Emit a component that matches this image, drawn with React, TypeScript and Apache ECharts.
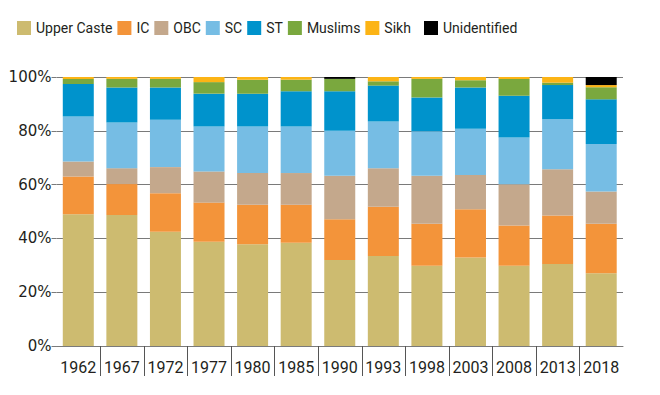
import React, { useEffect, useRef } from "react";
import * as echarts from "echarts";

const years = ["1962", "1967", "1972", "1977", "1980", "1985", "1990", "1993", "1998", "2003", "2008", "2013", "2018"];
const upperCaste = [49.0, 48.7, 42.5, 38.8, 37.8, 38.4, 32.0, 33.5, 29.8, 32.9, 29.8, 30.5, 27.0];
const ic = [14.0, 11.5, 14.3, 14.5, 14.7, 14.1, 15.1, 18.3, 15.6, 17.9, 15.0, 18.0, 18.4];
const obc = [5.6, 5.9, 9.7, 11.6, 11.8, 11.8, 16.2, 14.3, 17.9, 12.8, 15.3, 17.2, 12.0];
const sc = [16.7, 17.0, 17.6, 16.7, 17.3, 17.3, 16.7, 17.4, 16.5, 17.2, 17.4, 18.6, 17.7];
const st = [12.1, 13.0, 12.0, 12.2, 12.2, 13.1, 14.7, 13.3, 12.6, 15.3, 15.5, 12.7, 16.6];
const muslims = [1.9, 3.2, 3.2, 4.3, 5.2, 4.3, 4.6, 1.6, 6.9, 2.7, 6.3, 0.9, 4.5];
const sikh = [0.7, 0.7, 0.7, 1.9, 1.0, 1.0, 0.0, 1.6, 0.7, 1.2, 0.7, 2.1, 0.8];
const unidentified = [0, 0, 0, 0, 0, 0, 0.7, 0, 0, 0, 0, 0, 3.0];
const yTicks = { min: 0, max: 100, interval: 20 };

const seriesDefs = [
  { name: "Upper Caste", data: upperCaste, color: "#cdbb70" },
  { name: "IC", data: ic, color: "#f3943a" },
  { name: "OBC", data: obc, color: "#c4a88c" },
  { name: "SC", data: sc, color: "#76bde4" },
  { name: "ST", data: st, color: "#0093cc" },
  { name: "Muslims", data: muslims, color: "#7aa83e" },
  { name: "Sikh", data: sikh, color: "#fcb415" },
  { name: "Unidentified", data: unidentified, color: "#000000" },
];

const FONT = "Roboto, 'Noto Sans', sans-serif";
const YFONT = "'DejaVu Sans', sans-serif";
const TXT = "#231f20";

export default function App() {
  const ref = useRef<HTMLDivElement>(null);
  useEffect(() => {
    if (!ref.current) return;
    const chart = echarts.init(ref.current, null, { renderer: "svg" });
    const legendText = { fontFamily: FONT, fontSize: 14, color: TXT };
    chart.setOption({
      animation: false,
      textStyle: { fontFamily: FONT },
      legend: [
        {
          data: seriesDefs.slice(0, 7).map((s) => s.name),
          left: 17,
          top: 21,
          padding: 0,
          icon: "rect",
          itemWidth: 14,
          itemHeight: 14,
          itemGap: 5,
          textStyle: legendText,
          selectedMode: false,
        },
        {
          data: ["Unidentified"],
          left: 424,
          top: 21,
          padding: 0,
          icon: "rect",
          itemWidth: 14,
          itemHeight: 14,
          textStyle: legendText,
          selectedMode: false,
        },
      ],
      grid: { left: 56.5, right: 37, top: 77, bottom: 49, containLabel: false },
      xAxis: {
        type: "category",
        data: years,
        axisLine: { show: true, lineStyle: { color: "#7a7a7a", width: 1 } },
        axisTick: { show: false },
        axisLabel: { fontFamily: FONT, fontSize: 16, color: TXT, margin: 13, interval: 0 },
      },
      yAxis: {
        type: "value",
        min: yTicks.min,
        max: yTicks.max,
        interval: yTicks.interval,
        axisLine: { show: false },
        axisTick: { show: true, length: 5, lineStyle: { color: "#7a7a7a" } },
        splitLine: { show: true, lineStyle: { color: "#7a7a7a", width: 1 } },
        axisLabel: { fontFamily: YFONT, fontSize: 15, color: TXT, margin: 5, formatter: "{value}%" },
      },
      series: [
        ...seriesDefs.map((s) => ({
          name: s.name,
          type: "bar",
          stack: "total",
          barWidth: 31,
          data: s.data,
          itemStyle: { color: s.color },
          emphasis: { disabled: true },
        })),
        {
          type: "custom",
          silent: true,
          clip: false,
          z: 10,
          data: years.slice(1).map((y) => [y, 0]),
          encode: { x: 0, y: 1 },
          renderItem: (params: any, api: any) => {
            const c = api.coord([api.value(0), 0]);
            const w = api.size([1, 0])[0];
            const x = Math.round(c[0] - w / 2) + 0.5;
            return {
              type: "line",
              shape: { x1: x, y1: c[1], x2: x, y2: c[1] + 30 },
              style: { stroke: "#555555", lineWidth: 1 },
            };
          },
        },
      ],
    });
    return () => chart.dispose();
  }, []);
  return <div ref={ref} style={{ width: 660, height: 395, position: "absolute", left: 0, top: 0 }} />;
}
